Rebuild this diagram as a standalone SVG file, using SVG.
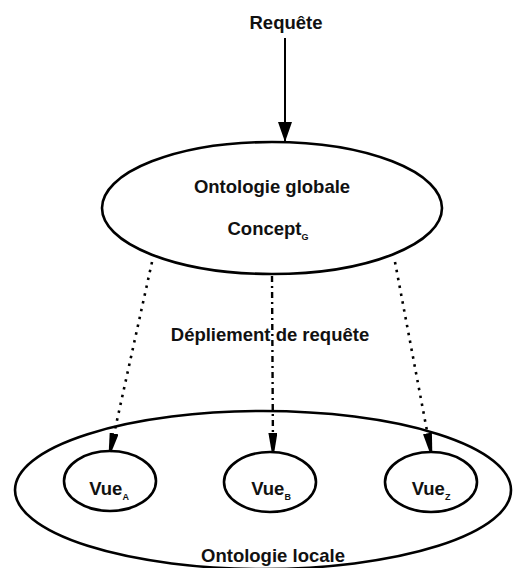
<svg xmlns="http://www.w3.org/2000/svg" width="513" height="568" viewBox="0 0 513 568">
  <defs>
    <style>
      .shape { fill: none; stroke: #000; stroke-width: 2.6; }
      .label { font-family: "Liberation Sans", Arial, sans-serif; font-weight: bold; font-size: 18.5px; fill: #111; text-anchor: middle; }
      .sub { font-size: 9px; }
      .solid { stroke: #000; stroke-width: 2; fill: none; }
      .dotted { stroke: #000; stroke-width: 2.6; fill: none; stroke-dasharray: 2.5 5.5; }
      .dashdot { stroke: #000; stroke-width: 2.4; fill: none; stroke-dasharray: 6 4 2 4; }
    </style>
    <marker id="head-big" markerUnits="userSpaceOnUse" markerWidth="20" markerHeight="14" refX="20" refY="7" orient="auto">
      <path d="M0,0 L20,7 L0,14 z" fill="#000"/>
    </marker>
    <marker id="head-thin" markerUnits="userSpaceOnUse" markerWidth="19" markerHeight="9" refX="19" refY="4.5" orient="auto">
      <path d="M0,0 L19,3.2 L19,5.8 L0,9 z" fill="#000"/>
    </marker>
  </defs>

  <!-- incoming query -->
  <g id="requete">
    <text class="label" x="286" y="29">Requête</text>
  </g>

  <!-- global ontology -->
  <g id="ontologie-globale">
    <ellipse class="shape" cx="272" cy="208" rx="170" ry="66"/>
    <text class="label" x="272" y="193">Ontologie globale</text>
    <text class="label" x="268" y="235">Concept<tspan class="sub" dy="5">G</tspan></text>
  </g>

  <!-- local ontology with its views -->
  <g id="ontologie-locale">
    <ellipse class="shape" cx="263" cy="490" rx="248" ry="79"/>
    <text class="label" x="273" y="562">Ontologie locale</text>
  </g>

  <g id="vue-a">
    <ellipse class="shape" cx="110" cy="481" rx="46" ry="30"/>
    <text class="label" x="109" y="495">Vue<tspan class="sub" dy="5">A</tspan></text>
  </g>

  <g id="vue-b">
    <ellipse class="shape" cx="270" cy="482" rx="46" ry="30"/>
    <text class="label" x="271" y="495">Vue<tspan class="sub" dy="5">B</tspan></text>
  </g>

  <g id="vue-z">
    <ellipse class="shape" cx="431" cy="482" rx="46" ry="30"/>
    <text class="label" x="431" y="495">Vue<tspan class="sub" dy="5">Z</tspan></text>
  </g>

  <!-- connectors -->
  <g id="connecteurs">
    <line class="solid" x1="285" y1="38" x2="285" y2="142" marker-end="url(#head-big)"/>
    <line class="dotted" x1="152" y1="262" x2="110" y2="452" marker-end="url(#head-thin)"/>
    <line class="dashdot" x1="272" y1="276" x2="273" y2="452" marker-end="url(#head-thin)"/>
    <line class="dotted" x1="395" y1="262" x2="431" y2="452" marker-end="url(#head-thin)"/>
    <text class="label" x="270" y="341">Dépliement de requête</text>
  </g>
</svg>
